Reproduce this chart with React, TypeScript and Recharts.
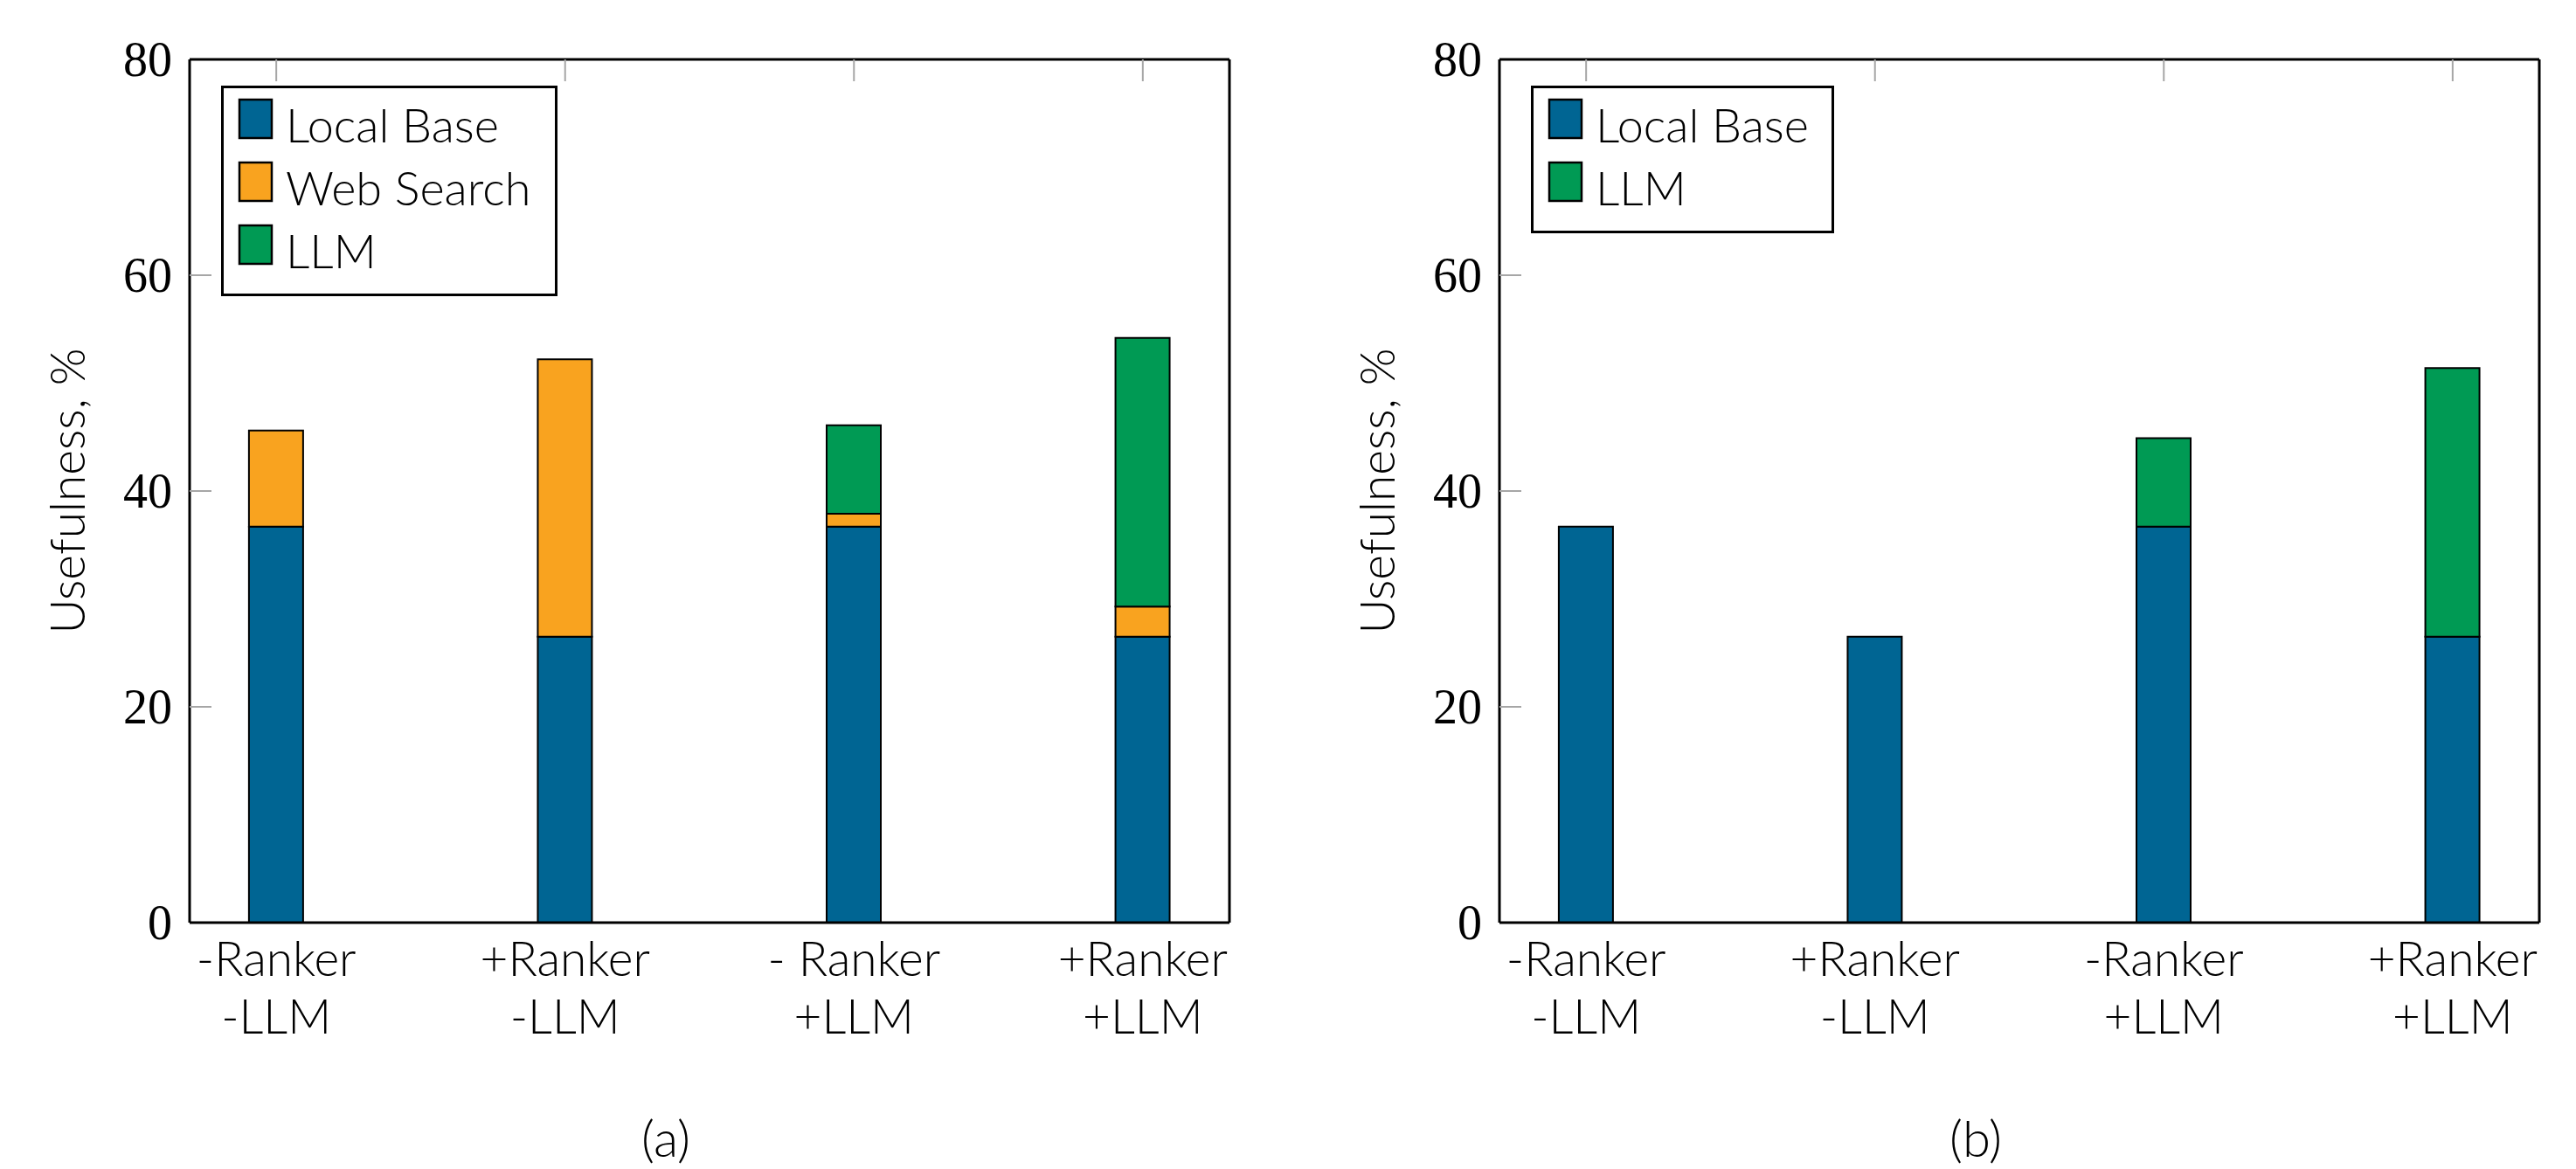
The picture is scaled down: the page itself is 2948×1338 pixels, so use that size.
import React from 'react';
import { BarChart, Bar, XAxis, YAxis, Legend } from 'recharts';

// ---------- data ----------
const categoryTopA = ['-Ranker', '+Ranker', '- Ranker', '+Ranker'];
const categoryTopB = ['-Ranker', '+Ranker', '-Ranker', '+Ranker'];
const categoryBottom = ['-LLM', '-LLM', '+LLM', '+LLM'];
const categoryIndex = [0, 1, 2, 3];
const yTicks = [0, 20, 40, 60, 80];

const localBaseA = [36.7, 26.5, 36.7, 26.5];
const webSearchA = [8.9, 25.7, 1.2, 2.8];
const llmA = [0, 0, 8.2, 24.9];

const localBaseB = [36.7, 26.5, 36.7, 26.5];
const llmB = [0, 0, 8.2, 24.9];

const captions = ['(a)', '(b)'];
const yLabel = 'Usefulness, %';

// ---------- styles ----------
const BLUE = '#006593';
const ORANGE = '#F9A31F';
const GREEN = '#009A54';
const TICK_GRAY = '#a6a6a6';
const SANS = 'Lato, "Open Sans", sans-serif';
const SERIF = '"Liberation Serif", "DejaVu Serif", serif';

const CW = 1440;
const CH = 1338;
const TICK_LEN = 25;

const dataA = categoryIndex.map((x, i) => ({
  x,
  local: localBaseA[i],
  web: webSearchA[i],
  llm: llmA[i],
}));
const dataB = categoryIndex.map((x, i) => ({
  x,
  local: localBaseB[i],
  llm: llmB[i],
}));

const seriesA = [
  { key: 'local', name: 'Local Base', color: BLUE },
  { key: 'web', name: 'Web Search', color: ORANGE },
  { key: 'llm', name: 'LLM', color: GREEN },
];
const seriesB = [
  { key: 'local', name: 'Local Base', color: BLUE },
  { key: 'llm', name: 'LLM', color: GREEN },
];

const LegendBox = ({ items, w, h }: any) => (
  <svg width={w} height={h} style={{ display: 'block' }}>
    <rect x={1.5} y={1.5} width={w - 3} height={h - 3} fill="#fff" stroke="#000" strokeWidth={3} />
    {items.map((it: any, i: number) => (
      <g key={i}>
        <rect x={21} y={16 + i * 72} width={37} height={44} fill={it.color} stroke="#000" strokeWidth={2.5} />
        <text x={74} y={65 + i * 72} fontFamily={SANS} fontWeight={300} fontSize={54} fill="#000">
          {it.value}
        </text>
      </g>
    ))}
  </svg>
);

// left axis: serif label outside + grey tick mark inside the frame
const YTick = (props: any) => {
  const { x, y, payload } = props;
  const showMark = payload.value !== 0 && payload.value !== 80;
  return (
    <g>
      {showMark && (
        <line x1={x + 20} y1={y} x2={x + 20 + TICK_LEN} y2={y} stroke={TICK_GRAY} strokeWidth={2} />
      )}
      <text x={x} y={y + 19} textAnchor="end" fontFamily={SERIF} fontSize={56} fill="#000">
        {payload.value}
      </text>
    </g>
  );
};

// right axis: grey tick mark inside the frame
const RightTick = (props: any) => {
  const { x, y, payload } = props;
  if (payload.value === 0 || payload.value === 80) return <g />;
  return <line x1={x - TICK_LEN} y1={y} x2={x} y2={y} stroke={TICK_GRAY} strokeWidth={2} />;
};

const EmptyTick = () => <g />;

const makeXTick = (tops: string[]) => (props: any) => {
  const { x, y, payload } = props;
  const i = Math.round(payload.value);
  return (
    <g>
      <text x={x} y={y + 61} textAnchor="middle" fontFamily={SANS} fontWeight={300} fontSize={55} fill="#000">
        {tops[i]}
      </text>
      <text x={x} y={y + 127} textAnchor="middle" fontFamily={SANS} fontWeight={300} fontSize={55} fill="#000">
        {categoryBottom[i]}
      </text>
    </g>
  );
};

const YLabel = () => (
  <text
    x={97}
    y={562}
    transform="rotate(-90, 97, 562)"
    textAnchor="middle"
    fontFamily={SANS}
    fontWeight={300}
    fontSize={55}
    fill="#000"
  >
    {yLabel}
  </text>
);

const Panel = ({ data, series, tops, legendW, legendH, caption, left }: any) => {
  const legendItems = series.map((s: any) => ({ value: s.name, color: s.color }));
  return (
    <div style={{ position: 'absolute', left, top: 0, width: CW, height: CH }}>
      <BarChart
        width={CW}
        height={CH}
        data={data}
        margin={{ top: 68, right: 33, bottom: 132, left: 117 }}
      >
        {series.map((s: any) => (
          <Bar
            key={s.key}
            dataKey={s.key}
            name={s.name}
            stackId="a"
            fill={s.color}
            stroke="#000"
            strokeWidth={2}
            barSize={62}
            xAxisId="b"
            yAxisId="l"
            isAnimationActive={false}
          />
        ))}
        <XAxis
          xAxisId="b"
          type="number"
          dataKey="x"
          domain={[-0.3, 3.3]}
          ticks={categoryIndex}
          interval={0}
          height={150}
          tickLine={false}
          tickSize={0}
          tickMargin={0}
          tick={makeXTick(tops)}
          axisLine={{ stroke: '#000', strokeWidth: 3 }}
        />
        <XAxis
          xAxisId="t"
          orientation="top"
          type="number"
          dataKey="x"
          domain={[-0.3, 3.3]}
          ticks={categoryIndex}
          interval={0}
          height={1}
          mirror
          tick={EmptyTick}
          tickSize={TICK_LEN}
          tickLine={{ stroke: TICK_GRAY, strokeWidth: 2 }}
          axisLine={{ stroke: '#000', strokeWidth: 3 }}
        />
        <YAxis
          yAxisId="l"
          type="number"
          domain={[0, 80]}
          ticks={yTicks}
          interval={0}
          width={100}
          tickLine={false}
          tickSize={0}
          tickMargin={20}
          tick={YTick}
          axisLine={{ stroke: '#000', strokeWidth: 3 }}
          label={{ content: YLabel }}
        />
        <YAxis
          yAxisId="r"
          orientation="right"
          type="number"
          domain={[0, 80]}
          ticks={yTicks}
          interval={0}
          width={1}
          mirror
          tickLine={false}
          tickSize={0}
          tickMargin={0}
          tick={RightTick}
          axisLine={{ stroke: '#000', strokeWidth: 3 }}
        />
        <Legend
          layout="vertical"
          align="center"
          verticalAlign="middle"
          wrapperStyle={{ left: 253, top: 98, width: legendW, height: legendH }}
          content={() => <LegendBox w={legendW} h={legendH} items={legendItems} />}
        />
      </BarChart>
      <div
        style={{
          position: 'absolute',
          left: 762 - 100,
          width: 200,
          top: 1262,
          textAlign: 'center',
          fontFamily: SANS,
          fontWeight: 300,
          fontSize: 58,
          lineHeight: '80px',
          color: '#000',
        }}
      >
        {caption}
      </div>
    </div>
  );
};

export default function App() {
  return (
    <div style={{ position: 'relative', width: 2948, height: 1338, background: '#fff', overflow: 'hidden' }}>
      <style>{'body{margin:0;background:#fff}'}</style>
      <Panel data={dataA} series={seriesA} tops={categoryTopA} legendW={385} legendH={241} caption={captions[0]} left={0} />
      <Panel data={dataB} series={seriesB} tops={categoryTopB} legendW={347} legendH={169} caption={captions[1]} left={1499} />
    </div>
  );
}
